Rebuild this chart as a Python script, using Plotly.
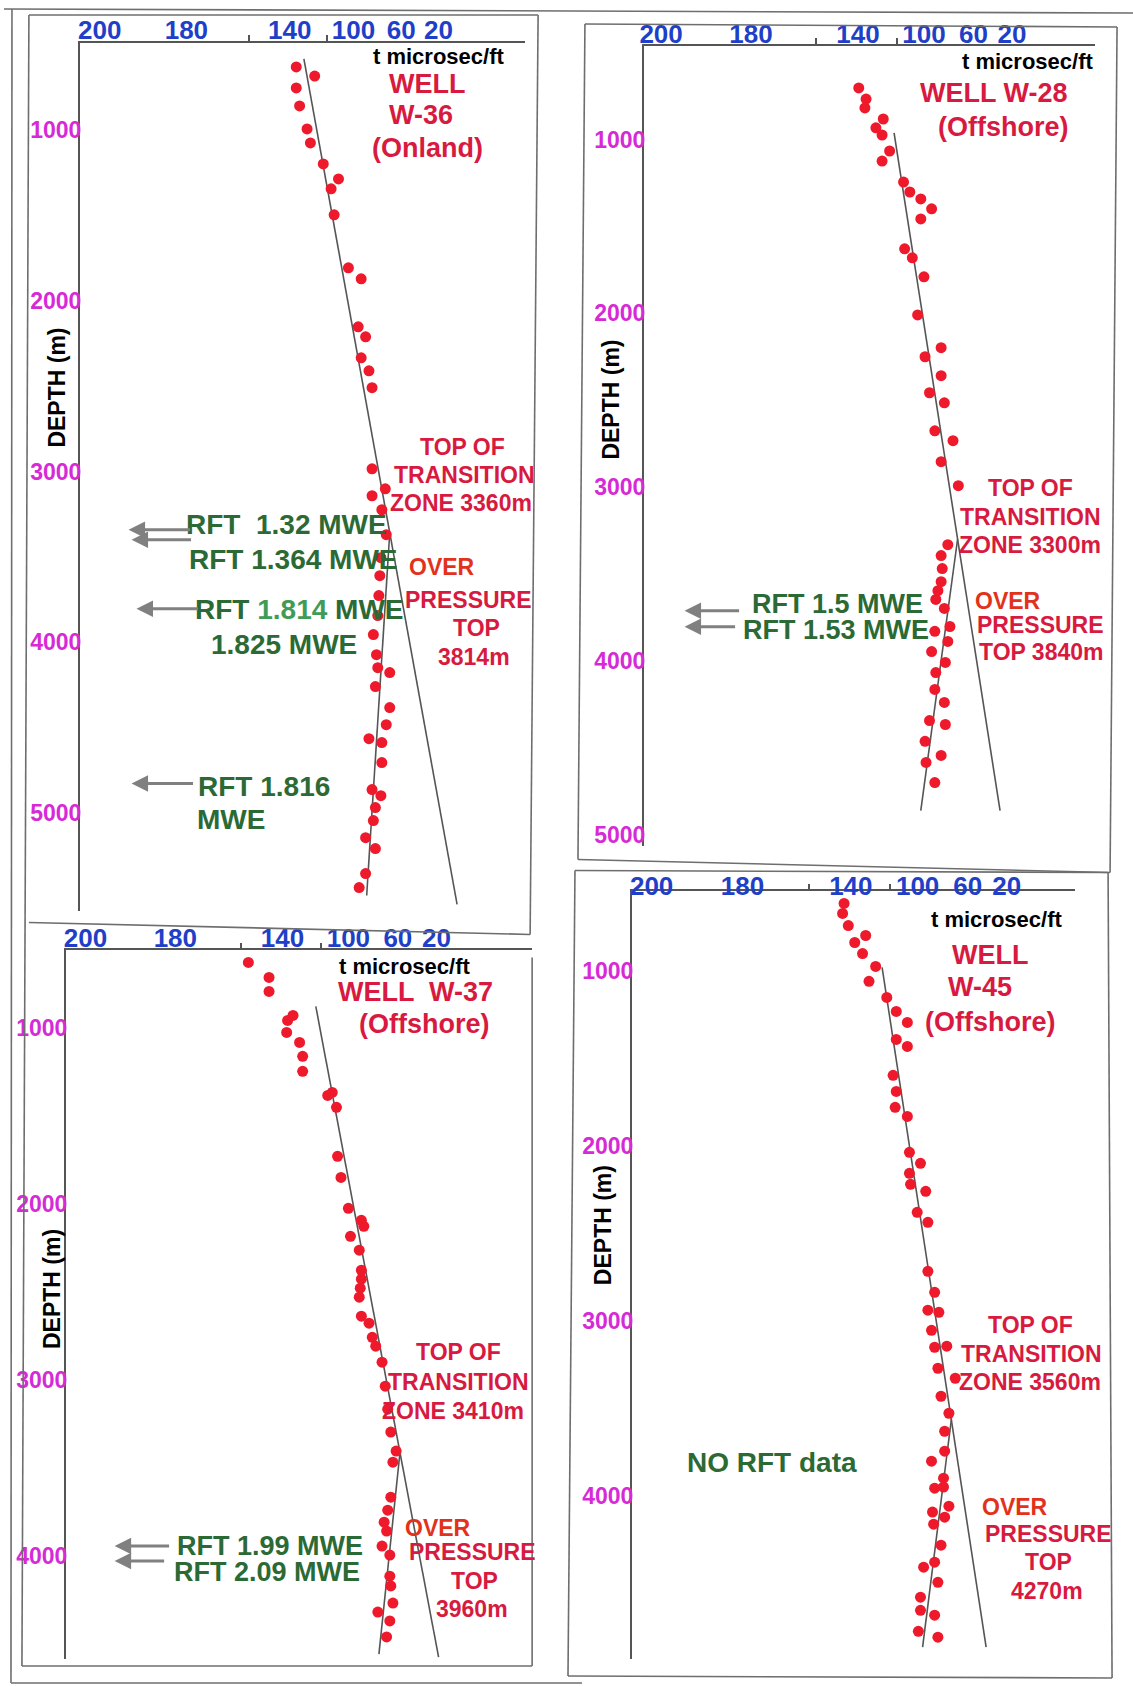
import numpy as np
import plotly.graph_objects as go

W, H = 1133, 1686
FONT = "Liberation Sans, Arial, sans-serif"

# hand-drawn transit-time scale: tick value -> fraction of the 200..20 span
DT_TICKS = [200, 180, 160, 140, 120, 100, 60, 20, 0]
DT_POS = [0.0, 0.256, 0.442, 0.561, 0.671, 0.749, 0.890, 1.0, 1.055]
LABELLED = [200, 180, 140, 100, 60, 20]
UNLABELLED = [160, 120]


def dt_to_u(dt):
    return np.interp(-np.asarray(dt, float), -np.asarray(DT_TICKS, float), DT_POS)


# ---- Well W-36 (Onland) ----
dt_w36 = [136.5, 126.6, 136.5, 134.7, 130.7, 128.9, 122, 111.3, 116.9, 114.6, 103.8, 93.5,
          96, 89.8, 93.5, 87, 84.4, 84.4, 73.3, 84.4, 76.2, 72.5, 77, 77.9, 78.7, 79.6,
          83.3, 80.7, 79.6, 69.6, 81.6, 69.6, 72.5, 87, 76.2, 76.2, 84.4, 77, 81.6, 83.3,
          89.8, 81.6, 89.8, 95.2]
depth_w36 = [630, 683, 753, 858, 993, 1075, 1198, 1286, 1344, 1496, 1807, 1871, 2152, 2211,
             2334, 2410, 2509, 2984, 3101, 3142, 3224, 3370, 3505, 3610, 3727, 3844, 3955,
             4073, 4149, 4178, 4260, 4383, 4483, 4565, 4588, 4705, 4863, 4899, 4969, 5045,
             5145, 5209, 5355, 5437]
nct_w36_dt, nct_w36_depth = [132.4, 0], [583, 5536]
op_w36_dt, op_w36_depth = [69.6, 88.9], [3360, 5484]
rft_w36_depth = [3341, 3400, 3804, 4828]

# ---- Well W-28 (Offshore) ----
dt_w28 = [139.6, 135.8, 136.4, 126.9, 130.7, 127.5, 123.6, 127.5, 114.9, 110.3, 102.3, 93.8,
          102.3, 114.1, 108.5, 100, 104.6, 86.1, 99.1, 86.1, 95.5, 83.5, 91.2, 76.5, 86.1,
          72.2, 80.7, 86.1, 85.2, 86.1, 88.7, 90.4, 83.5, 79, 91.2, 80.7, 93.8, 82.7, 90.4,
          91.2, 83.5, 95.5, 82.7, 99.1, 86.1, 98.3, 91.2]
depth_w28 = [703, 767, 818, 882, 933, 974, 1066, 1124, 1245, 1302, 1342, 1399, 1457, 1629,
             1681, 1790, 2009, 2198, 2250, 2359, 2457, 2515, 2676, 2733, 2854, 2992, 3331,
             3394, 3469, 3544, 3596, 3646, 3698, 3802, 3830, 3888, 3946, 4009, 4067, 4164,
             4239, 4343, 4366, 4463, 4544, 4584, 4700]
nct_w28_dt, nct_w28_depth = [121.3, 32.4], [962, 4861]
op_w28_dt, op_w28_depth = [72.8, 102.3], [3300, 4861]
rft_w28_depth = [3711, 3803]

# ---- Well W-37 (Offshore) ----
dt_w37 = [156.3, 146.4, 146.4, 134.5, 137.3, 137.8, 131.1, 129.5, 129.5, 111.8, 115.1, 108.7,
          107.9, 105.4, 100, 89.5, 87.5, 98.3, 91.2, 89.5, 89.5, 90.4, 91.2, 89.5, 83.3, 80.7,
          77.9, 72.8, 70.2, 68.2, 65.7, 61.4, 64, 65.7, 68.2, 71.1, 69.1, 72.8, 66.5, 66.5,
          65.7, 64, 76.2, 66.5, 69.1]
depth_w37 = [625, 710, 790, 926, 955, 1023, 1080, 1159, 1244, 1364, 1381, 1449, 1727, 1847,
             2023, 2091, 2125, 2182, 2261, 2375, 2426, 2477, 2528, 2636, 2676, 2756, 2807,
             2898, 3034, 3165, 3295, 3403, 3466, 3665, 3739, 3807, 3858, 3943, 3994, 4114,
             4170, 4267, 4318, 4369, 4460]
nct_w37_dt, nct_w37_depth = [122.7, 17.8], [875, 4574]
op_w37_dt, op_w37_depth = [57.8, 75.3], [3410, 4557]
rft_w37_depth = [3943, 4028]

# ---- Well W-45 (Offshore) ----
dt_w45 = [143.2, 143.9, 141.2, 132.4, 138, 134, 127.3, 130.7, 121.6, 115.4, 107.4, 115.4,
          107.4, 117.7, 115.4, 116.2, 107.4, 105.9, 97.7, 105.9, 105.1, 93.5, 100.3, 91.8,
          91.8, 86.4, 91.8, 83, 88.9, 86.4, 76.7, 83.8, 69.9, 81.3, 75, 78.4, 78.4, 88.9,
          79.3, 86.4, 79.3, 75, 88.1, 78.4, 87.2, 81.3, 86.4, 95.2, 83.8, 97.7, 97.7, 86.4,
          99.4, 83.8]
depth_w45 = [614, 671, 740, 797, 837, 900, 974, 1059, 1151, 1231, 1294, 1391, 1431, 1596,
             1688, 1779, 1831, 2036, 2099, 2156, 2219, 2259, 2379, 2436, 2716, 2836, 2938,
             2950, 3053, 3150, 3144, 3270, 3327, 3430, 3527, 3630, 3744, 3801, 3898, 3955,
             3949, 4058, 4092, 4121, 4161, 4281, 4378, 4407, 4493, 4578, 4653, 4681, 4773,
             4807]
nct_w45_dt, nct_w45_depth = [124, 41.1], [979, 4863]
op_w45_dt, op_w45_depth = [73, 96], [3560, 4863]

# colours
RED = "#d81a40"
ORANGE_RED = "#e2321c"
GREEN = "#2b6a35"
LGREEN = "#3f9c57"
BLUE = "#1f3fc8"
MAG = "#d62ad6"
DOT = "#ee1a2c"
LINE = "#555555"
FRAME = "#6e6e6e"

# panel geometry in page pixels: a = x of the 200 tick, b = span 200 -> 20,
# axis box, and the depth mapping (reference depth, its pixel row, px per metre)
panels = [
    dict(a=96, b=340, left=76, right=523, top=43, bot=912, dref=3000, yref=471.8, k=0.1708,
         yticks=[1000, 2000, 3000, 4000, 5000], xstand=-8,
         dt=dt_w36, depth=depth_w36, nct=(nct_w36_dt, nct_w36_depth), op=(op_w36_dt, op_w36_depth)),
    dict(a=659.4, b=352.2, left=642, right=1095, top=46, bot=847, dref=3000, yref=487.4, k=0.1739,
         yticks=[1000, 2000, 3000, 4000, 5000], xstand=-9,
         dt=dt_w28, depth=depth_w28, nct=(nct_w28_dt, nct_w28_depth), op=(op_w28_dt, op_w28_depth)),
    dict(a=81.8, b=352.2, left=62, right=530, top=951, bot=1660, dref=2500, yref=1293, k=0.176,
         yticks=[1000, 2000, 3000, 4000], xstand=-9,
         dt=dt_w37, depth=depth_w37, nct=(nct_w37_dt, nct_w37_depth), op=(op_w37_dt, op_w37_depth)),
    dict(a=649.9, b=356.4, left=630, right=1075, top=892, bot=1660, dref=2500, yref=1234.25, k=0.1751,
         yticks=[1000, 2000, 3000, 4000], xstand=-16,
         dt=dt_w45, depth=depth_w45, nct=(nct_w45_dt, nct_w45_depth), op=(op_w45_dt, op_w45_depth)),
]

fig = go.Figure()
layout = dict(width=W, height=H, margin=dict(l=0, r=0, t=0, b=0),
              paper_bgcolor="white", plot_bgcolor="rgba(0,0,0,0)", showlegend=False)

for i, p in enumerate(panels):
    n = "" if i == 0 else str(i + 1)
    depth_at = lambda py, p=p: p["dref"] + (py - p["yref"]) / p["k"]
    layout["xaxis" + n] = dict(
        domain=[p["left"] / W, p["right"] / W],
        range=[(p["left"] - p["a"]) / p["b"], (p["right"] - p["a"]) / p["b"]],
        anchor="y" + n, side="top", showgrid=False, zeroline=False,
        showline=True, linecolor=LINE, linewidth=1.5,
        tickmode="array", tickvals=list(dt_to_u(LABELLED)),
        ticktext=["<b>%d</b>" % v for v in LABELLED], ticks="",
        ticklabelstandoff=p["xstand"],
        tickfont=dict(family=FONT, size=26, color=BLUE),
        minor=dict(tickmode="array", tickvals=list(dt_to_u(UNLABELLED)),
                   ticks="outside", ticklen=6, tickcolor=LINE, tickwidth=1.5),
    )
    layout["yaxis" + n] = dict(
        domain=[1 - p["bot"] / H, 1 - p["top"] / H],
        range=[depth_at(p["bot"]), depth_at(p["top"])],
        anchor="x" + n, showgrid=False, zeroline=False,
        showline=True, linecolor=LINE, linewidth=1.5,
        tickmode="array", tickvals=p["yticks"],
        ticktext=["<b>%d</b>" % v for v in p["yticks"]], ticks="",
        ticklabelstandoff=-8,
        tickfont=dict(family=FONT, size=23, color=MAG),
    )
    xa, ya = "x" + n, "y" + n
    for seg in (p["nct"], p["op"]):
        fig.add_trace(go.Scatter(x=dt_to_u(seg[0]), y=seg[1], mode="lines", xaxis=xa, yaxis=ya,
                                 line=dict(color=LINE, width=1.6), hoverinfo="skip"))
    fig.add_trace(go.Scatter(x=dt_to_u(p["dt"]), y=p["depth"], mode="markers", xaxis=xa, yaxis=ya,
                             marker=dict(color=DOT, size=11, line=dict(width=0))))

fig.update_layout(**layout)


def label(text, px, py, size, color, angle=0):
    fig.add_annotation(text=text, x=px / W, y=1 - py / H, xref="paper", yref="paper",
                       xanchor="center", yanchor="middle", showarrow=False, textangle=angle,
                       font=dict(family=FONT, size=size, color=color))


def b(t):
    return "<b>%s</b>" % t


# axis titles
for px, py in [(53, 388), (609, 400), (48, 1290), (601, 1226)]:
    label(b("DEPTH (m)"), px, py, 23, "black", -90)
for px, py in [(436, 57), (1027, 62), (402, 967), (996, 920)]:
    label(b("t microsec/ft"), px, py, 22, "black")

# well names
label(b("WELL"), 424, 84, 27, RED)
label(b("W-36"), 418, 115, 27, RED)
label(b("(Onland)"), 425, 148, 27, RED)
label(b("WELL W-28"), 993, 93, 27, RED)
label(b("(Offshore)"), 1003, 127, 27, RED)
label(b("WELL  W-37"), 413, 993, 27, RED)
label(b("(Offshore)"), 422, 1025, 27, RED)
label(b("WELL"), 989, 956, 27, RED)
label(b("W-45"), 979, 988, 27, RED)
label(b("(Offshore)"), 990, 1023, 27, RED)

# transition zone and overpressure notes
notes = [
    (("TOP OF", 460, 447), ("TRANSITION", 462, 475), ("ZONE 3360m", 459, 503)),
    (("TOP OF", 1030, 488), ("TRANSITION", 1030, 517), ("ZONE 3300m", 1030, 545)),
    (("TOP OF", 456, 1353), ("TRANSITION", 456, 1383), ("ZONE 3410m", 451, 1412)),
    (("TOP OF", 1030, 1326), ("TRANSITION", 1031, 1355), ("ZONE 3560m", 1030, 1383)),
]
for grp in notes:
    for t, px, py in grp:
        label(b(t), px, py, 23, RED)

over = [
    [("OVER", 440, 567, ORANGE_RED), ("PRESSURE", 466, 600, RED), ("TOP", 474, 628, RED), ("3814m", 472, 657, RED)],
    [("OVER", 1008, 601, ORANGE_RED), ("PRESSURE", 1040, 625, RED), ("TOP 3840m", 1041, 652, RED)],
    [("OVER", 436, 1529, ORANGE_RED), ("PRESSURE", 470, 1553, RED), ("TOP", 472, 1582, RED), ("3960m", 470, 1610, RED)],
    [("OVER", 1015, 1508, ORANGE_RED), ("PRESSURE", 1048, 1535, RED), ("TOP", 1048, 1563, RED), ("4270m", 1047, 1592, RED)],
]
for grp in over:
    for t, px, py, c in grp:
        label(b(t), px, py, 23, c)

# RFT notes
label(b("RFT  1.32 MWE"), 284, 525, 28, GREEN)
label(b("RFT 1.364 MWE"), 290, 560, 28, GREEN)
label(b("RFT <span style='color:%s'>1.814</span> MWE" % LGREEN), 297, 610, 28, GREEN)
label(b("1.825 MWE"), 281, 645, 28, GREEN)
label(b("RFT 1.816"), 261, 787, 28, GREEN)
label(b("MWE"), 228, 820, 28, GREEN)
label(b("RFT 1.5 MWE"), 836, 604, 27, GREEN)
label(b("RFT 1.53 MWE"), 835, 630, 27, GREEN)
label(b("RFT 1.99 MWE"), 267, 1547, 27, GREEN)
label(b("RFT 2.09 MWE"), 264, 1573, 27, GREEN)
label(b("NO RFT data"), 771, 1463, 28, GREEN)

# RFT arrows pointing to the tested depths
arrows = [
    ("y", rft_w36_depth, [(125, 188), (128, 189), (133, 196), (128, 191)]),
    ("y2", rft_w28_depth, [(683, 739), (683, 735)]),
    ("y3", rft_w37_depth, [(111, 167), (111, 162)]),
]
for yr, depths, xs in arrows:
    for d, (hx, tx) in zip(depths, xs):
        fig.add_annotation(x=hx / W, y=d, xref="paper", yref=yr, text="", showarrow=True,
                           ax=tx - hx, ay=0, axref="pixel", ayref="pixel",
                           arrowhead=2, arrowsize=1.1, arrowwidth=3, arrowcolor="#808080")

# page and panel frames
frames = [
    (0, 9, 1133, 13), (8, 9, 7, 1684), (7, 1684, 580, 1684),
    (25, 15, 536, 15), (536, 15, 528, 935), (25, 923, 528, 935), (25, 15, 18, 1667),
    (530, 958, 530, 1667), (18, 1667, 530, 1667),
    (583, 24, 1117, 27), (1117, 27, 1110, 873), (576, 860, 1110, 873), (583, 24, 576, 860),
    (573, 871, 1108, 873), (1108, 873, 1112, 1679), (566, 1677, 1112, 1679), (573, 871, 566, 1677),
]
for x0, y0, x1, y1 in frames:
    fig.add_shape(type="line", xref="paper", yref="paper",
                  x0=x0 / W, y0=1 - y0 / H, x1=x1 / W, y1=1 - y1 / H,
                  line=dict(color=FRAME, width=1.6))

fig.write_html("out.html")
